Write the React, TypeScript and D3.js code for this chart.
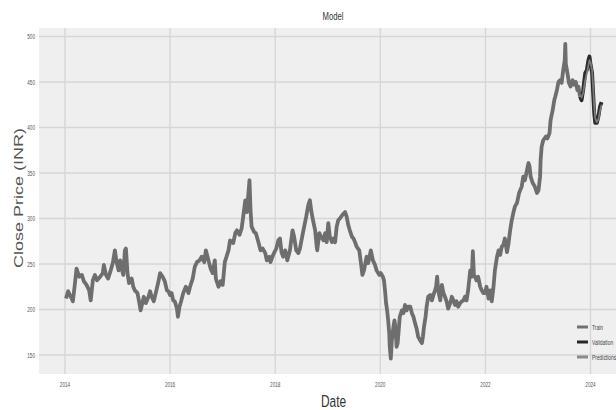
import React from "react";
import * as d3 from "d3";

// Closing prices, dates stored as decimal years
const trainYears = [
  2014.02, 2014.06, 2014.11, 2014.15, 2014.19, 2014.22, 2014.27, 2014.32, 2014.36, 2014.41,
  2014.46, 2014.49, 2014.53, 2014.57, 2014.61, 2014.67, 2014.72, 2014.74, 2014.78, 2014.82,
  2014.87, 2014.91, 2014.95, 2014.98, 2015.02, 2015.05, 2015.08, 2015.11, 2015.14, 2015.16,
  2015.19, 2015.22, 2015.27, 2015.30, 2015.33, 2015.38, 2015.41, 2015.44, 2015.48, 2015.50,
  2015.54, 2015.59, 2015.62, 2015.65, 2015.69, 2015.74, 2015.78, 2015.81, 2015.86, 2015.90,
  2015.94, 2015.97, 2016.00, 2016.03, 2016.06, 2016.09, 2016.13, 2016.15, 2016.18, 2016.21,
  2016.25, 2016.30, 2016.35, 2016.38, 2016.43, 2016.47, 2016.51, 2016.56, 2016.60, 2016.65,
  2016.68, 2016.73, 2016.77, 2016.81, 2016.85, 2016.87, 2016.92, 2016.96, 2017.00, 2017.04,
  2017.11, 2017.14, 2017.20, 2017.24, 2017.27, 2017.32, 2017.36, 2017.39, 2017.43, 2017.46,
  2017.51, 2017.53, 2017.55, 2017.60, 2017.63, 2017.68, 2017.72, 2017.76, 2017.81, 2017.84,
  2017.89, 2017.91, 2017.96, 2018.02, 2018.06, 2018.09, 2018.12, 2018.15, 2018.19, 2018.23,
  2018.28, 2018.33, 2018.36, 2018.40, 2018.44, 2018.47, 2018.53, 2018.59, 2018.63, 2018.66,
  2018.69, 2018.72, 2018.76, 2018.79, 2018.80, 2018.84, 2018.87, 2018.92, 2018.95, 2018.98,
  2019.01, 2019.04, 2019.08, 2019.11, 2019.14, 2019.17, 2019.20, 2019.23, 2019.28, 2019.33,
  2019.36, 2019.39, 2019.42, 2019.46, 2019.49, 2019.52, 2019.55, 2019.60, 2019.63, 2019.66,
  2019.69, 2019.74, 2019.77, 2019.82, 2019.86, 2019.90, 2019.93, 2019.98, 2020.01, 2020.05,
  2020.07, 2020.09, 2020.11, 2020.13, 2020.15, 2020.17, 2020.18, 2020.20, 2020.22, 2020.25,
  2020.27, 2020.29, 2020.31, 2020.33, 2020.35, 2020.37, 2020.41, 2020.44, 2020.47, 2020.50,
  2020.53, 2020.57, 2020.60, 2020.63, 2020.66, 2020.69, 2020.72, 2020.76, 2020.79, 2020.81,
  2020.83, 2020.86, 2020.88, 2020.91, 2020.95, 2020.98, 2021.01, 2021.04, 2021.06, 2021.08,
  2021.10, 2021.14, 2021.17, 2021.20, 2021.23, 2021.26, 2021.29, 2021.33, 2021.36, 2021.39,
  2021.42, 2021.45, 2021.48, 2021.52, 2021.55, 2021.58, 2021.61, 2021.64, 2021.67, 2021.71,
  2021.74, 2021.76, 2021.78, 2021.80, 2021.83, 2021.86, 2021.90, 2021.93, 2021.96, 2021.99,
  2022.02, 2022.06, 2022.09, 2022.12, 2022.15, 2022.18, 2022.22, 2022.25, 2022.28, 2022.31,
  2022.34, 2022.37, 2022.41, 2022.44, 2022.47, 2022.50, 2022.53, 2022.56, 2022.60, 2022.64,
  2022.69, 2022.72, 2022.75, 2022.79, 2022.82, 2022.84, 2022.86, 2022.90, 2022.94, 2022.98,
  2023.01, 2023.04, 2023.05, 2023.07, 2023.10, 2023.15, 2023.18, 2023.22, 2023.24, 2023.28,
  2023.31, 2023.33, 2023.36, 2023.39, 2023.42, 2023.45, 2023.48, 2023.51, 2023.52, 2023.53,
  2023.56, 2023.59, 2023.62, 2023.66, 2023.69, 2023.72, 2023.75, 2023.77, 2023.80,
];

const trainClose = [
  212, 220, 214, 209, 229, 245, 236, 238, 231, 227,
  221, 210, 232, 238, 232, 236, 240, 249, 238, 234,
  243, 251, 265, 253, 243, 254, 245, 238, 265, 267,
  240, 229, 234, 225, 221, 218, 209, 199, 209, 214,
  207, 214, 220, 214, 209, 221, 231, 240, 236, 231,
  221, 220, 216, 218, 210, 209, 201, 192, 203, 209,
  218, 225, 218, 225, 234, 247, 252, 254, 258, 252,
  265, 254, 245, 240, 254, 234, 225, 231, 227, 252,
  265, 276, 273, 284, 287, 282, 289, 302, 320, 307,
  342, 309, 291, 285, 284, 274, 265, 267, 262, 254,
  258, 252, 260, 267, 276, 278, 263, 258, 265, 254,
  265, 287, 280, 265, 262, 267, 285, 302, 315, 320,
  307, 298, 287, 269, 265, 284, 280, 276, 284, 274,
  295, 280, 274, 278, 274, 291, 298, 300, 304, 307,
  302, 293, 287, 280, 278, 274, 269, 265, 252, 238,
  243, 258, 251, 265, 254, 249, 243, 238, 240, 236,
  232, 221, 207, 199, 188, 174, 159, 146, 166, 181,
  188, 179, 159, 163, 177, 192, 199, 196, 205, 199,
  203, 203, 196, 192, 185, 179, 170, 166, 163, 170,
  181, 192, 203, 214, 216, 210, 216, 221, 225, 236,
  221, 210, 227, 218, 214, 209, 201, 207, 214, 210,
  205, 209, 203, 207, 209, 210, 214, 210, 221, 243,
  236, 264, 238, 236, 232, 236, 225, 221, 218, 218,
  225, 212, 221, 209, 223, 243, 258, 265, 260, 269,
  271, 278, 263, 273, 287, 298, 306, 313, 317, 328,
  335, 346, 342, 353, 361, 357, 346, 339, 335, 328,
  331, 346, 364, 379, 386, 390, 388, 394, 408, 419,
  430, 434, 441, 450, 452, 449, 463, 474, 492, 470,
  460, 449, 445, 452, 447, 450, 441, 445, 434,
];

const validYears = [
  2023.80, 2023.83, 2023.86, 2023.90, 2023.93, 2023.96, 2023.98, 2024.00,
  2024.03, 2024.05, 2024.07, 2024.09, 2024.12, 2024.15, 2024.18, 2024.21,
];
const validClose = [434, 430, 441, 460, 463, 474, 478, 470, 460, 438, 416, 405, 405, 412, 423, 428];
const predClose = [436, 433, 438, 452, 460, 468, 474, 472, 463, 445, 424, 410, 406, 409, 418, 425];

const yTicks = [150, 200, 250, 300, 350, 400, 450, 500];
const xTickYears = [2014, 2016, 2018, 2020, 2022, 2024];
const legendItems = [
  { label: "Train", color: "#707070" },
  { label: "Validation", color: "#262626" },
  { label: "Predictions", color: "#8a8a8a" },
];

const W = 616;
const H = 410;
const plot = { left: 39, top: 28, right: 616, bottom: 374 };
const FONT = "'Liberation Sans', Arial, sans-serif";

function toDate(y: number): Date {
  const yr = Math.floor(y);
  const a = new Date(yr, 0, 1).getTime();
  const b = new Date(yr + 1, 0, 1).getTime();
  return new Date(a + (y - yr) * (b - a));
}

export default function App() {
  const x = d3
    .scaleTime()
    .domain([new Date(2014, 0, 1), new Date(2024, 0, 1)])
    .range([65, 590.5]);
  const y = d3.scaleLinear().domain([150, 500]).range([355, 36.5]);

  const line = d3
    .line<[number, number]>()
    .x((d) => x(toDate(d[0])))
    .y((d) => y(d[1]));

  const train = trainYears.map((t, i) => [t, trainClose[i]] as [number, number]);
  const valid = validYears.map((t, i) => [t, validClose[i]] as [number, number]);
  const pred = validYears.map((t, i) => [t, predClose[i]] as [number, number]);

  return (
    <svg
      width={W}
      height={H}
      style={{ position: "absolute", left: 0, top: 0, background: "#fff" }}
    >
      <rect
        x={plot.left}
        y={plot.top}
        width={plot.right - plot.left}
        height={plot.bottom - plot.top}
        fill="#efefef"
      />
      {yTicks.map((v) => (
        <line
          key={"gy" + v}
          x1={plot.left}
          x2={plot.right}
          y1={y(v)}
          y2={y(v)}
          stroke="#d6d6d6"
          strokeWidth={1.4}
        />
      ))}
      {xTickYears.map((v) => (
        <line
          key={"gx" + v}
          x1={x(new Date(v, 0, 1))}
          x2={x(new Date(v, 0, 1))}
          y1={plot.top}
          y2={plot.bottom}
          stroke="#d6d6d6"
          strokeWidth={1.4}
        />
      ))}

      <path d={line(train) || ""} fill="none" stroke="#6e6e6e" strokeWidth={3.8} strokeLinejoin="round" />
      <path d={line(valid) || ""} fill="none" stroke="#2a2a2a" strokeWidth={3.8} strokeLinejoin="round" />
      <path d={line(pred) || ""} fill="none" stroke="#7a7a7a" strokeWidth={1.8} strokeLinejoin="round" />

      {yTicks.map((v) => (
        <text
          key={"ty" + v}
          transform={`translate(35,${y(v) + 2.6}) scale(0.62,1)`}
          textAnchor="end"
          fontFamily={FONT}
          fontSize={7.5}
          fill="#555"
        >
          {v}
        </text>
      ))}
      {xTickYears.map((v) => (
        <text
          key={"tx" + v}
          transform={`translate(${x(new Date(v, 0, 1))},387) scale(0.62,1)`}
          textAnchor="middle"
          fontFamily={FONT}
          fontSize={7.5}
          fill="#555"
        >
          {v}
        </text>
      ))}

      <text
        transform="translate(333,20) scale(0.7,1)"
        textAnchor="middle"
        fontFamily={FONT}
        fontSize={11}
        fill="#333"
      >
        Model
      </text>
      <text
        transform="translate(333.5,407) scale(0.7,1)"
        textAnchor="middle"
        fontFamily={FONT}
        fontSize={17}
        fill="#333"
      >
        Date
      </text>
      <text
        transform="translate(23,198) scale(0.7,1) rotate(-90)"
        textAnchor="middle"
        fontFamily={FONT}
        fontSize={18}
        fill="#555"
      >
        Close Price (INR)
      </text>

      {legendItems.map((it, i) => (
        <g key={it.label} transform={`translate(577,${327 + i * 15})`}>
          <line x1={0} x2={11} y1={0} y2={0} stroke={it.color} strokeWidth={3} />
          <text
            transform="translate(15,2.5) scale(0.7,1)"
            fontFamily={FONT}
            fontSize={7}
            fill="#444"
          >
            {it.label}
          </text>
        </g>
      ))}
    </svg>
  );
}
